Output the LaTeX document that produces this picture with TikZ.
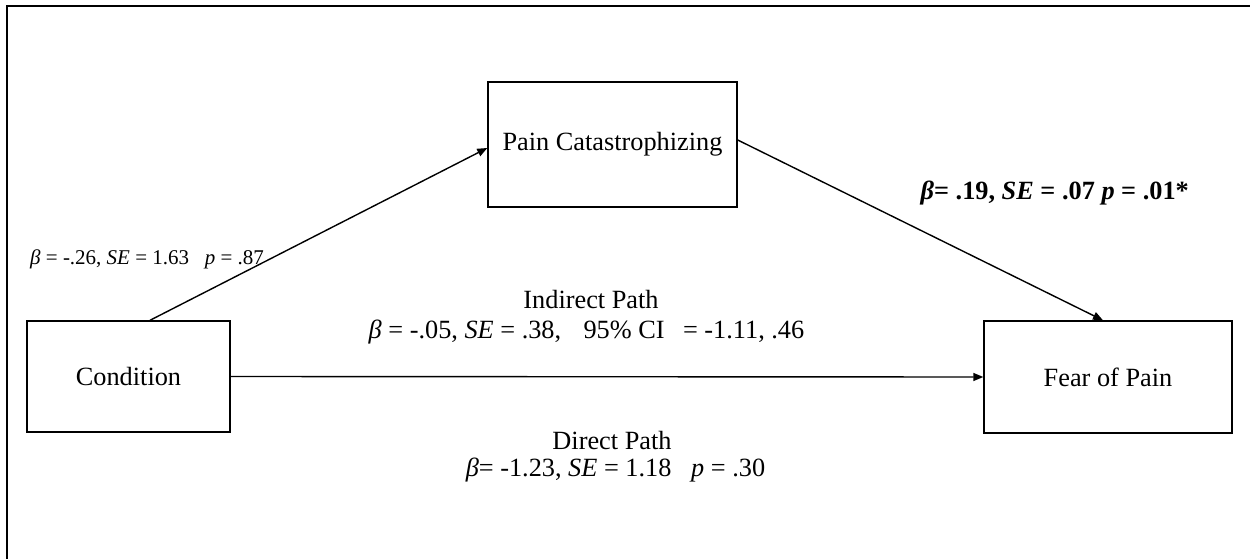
\documentclass[tikz,border=0pt]{standalone}
\usepackage{fontspec}
\setmainfont{Liberation Serif}
\usetikzlibrary{arrows.meta,calc}
\newcommand{\bt}{\textit{β}}
\begin{document}
\begin{tikzpicture}[x=1pt,y=-1pt,
  varbox/.style={draw,line width=1.4pt,inner sep=0pt,align=center,
    font=\fontsize{26.3}{30}\selectfont},
  path/.style={line width=1.4pt,-{Triangle[length=10pt,width=8pt]}},
  lab/.style={inner sep=0pt,font=\fontsize{26.3}{31}\selectfont}]
  \useasboundingbox (0,0) rectangle (1250,559);
  % outer frame (runs past the page on the right and bottom)
  \draw[line width=2pt] (7,570) -- (7,6) -- (1260,6);

  \node[varbox,minimum width=203pt,minimum height=111pt] (cond) at (128.5,376.5) {Condition};
  \node[varbox,minimum width=249pt,minimum height=125pt] (pain) at (612.5,144.5) {Pain Catastrophizing};
  \node[varbox,minimum width=248pt,minimum height=112pt] (fear) at (1108,377) {Fear of Pain};

  \draw[path] ([xshift=21.5pt]cond.north) -- ([yshift=-3.5pt]pain.west);
  \draw[path] ([yshift=4.5pt]pain.east) -- ([xshift=-5pt]fear.north);
  \draw[path] (cond.east) -- (fear.west);

  \node[lab,anchor=west,font=\fontsize{21}{25}\selectfont] (la) at (30,259) {\bt{} = -.26, \textit{SE} = 1.63\hspace{0.5em} \textit{p} = .87};
  \node[lab,anchor=east] (lb) at (1189,193) {\bfseries\bt= .19, \textit{SE} = .07 \textit{p} = .01*};
  \node[lab] (li1) at (591,300) {Indirect Path};
  \node[lab] (li2) at (586.5,332) {\bt{} = -.05, \textit{SE} = .38,\hspace{0.6em} 95\% CI\hspace{0.45em} = -1.11, .46};
  \node[lab] (ld1) at (612,441) {Direct Path};
  \node[lab] (ld2) at (615.5,470) {\bt{}= -1.23, \textit{SE} = 1.18\hspace{0.5em} \textit{p} = .30};
\end{tikzpicture}
\end{document}
